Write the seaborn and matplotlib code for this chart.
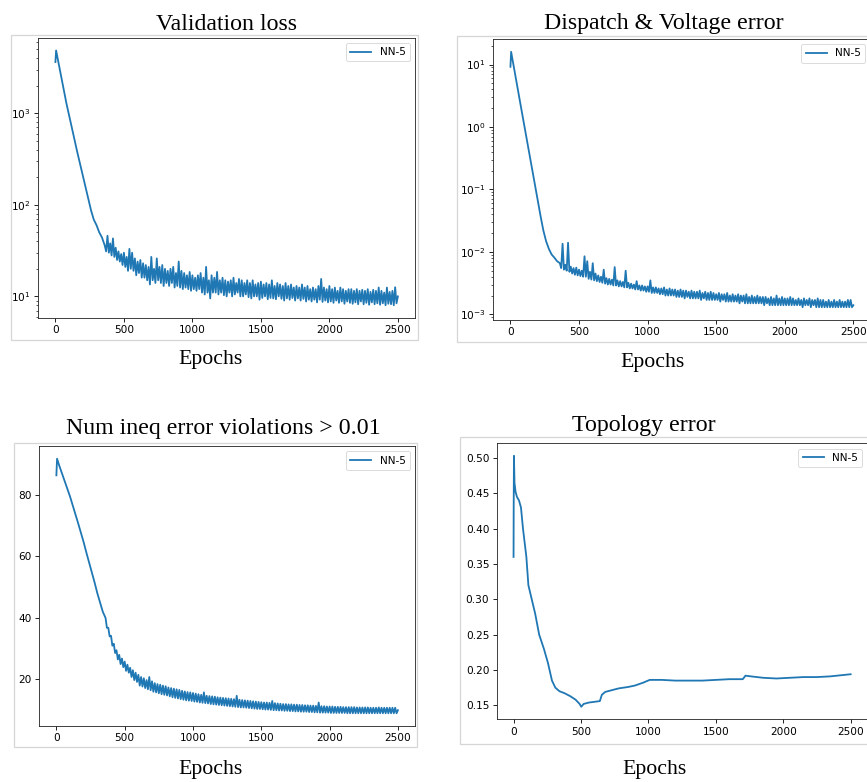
import matplotlib
matplotlib.use("Agg")
import matplotlib.pyplot as plt
import seaborn as sns
import pandas as pd
from matplotlib.patches import Rectangle

# ---------------- data ----------------
head_epochs = [0, 5, 20, 40, 60, 80, 100, 120, 140, 160, 180, 200, 220, 240,
               260, 280, 300, 320, 340]
tail_epochs = list(range(360, 2501, 10))
epochs = head_epochs + tail_epochs

loss_head = [3630, 4860, 3720, 2610, 1830, 1290, 946, 695, 510, 374, 279, 208,
             155, 115, 87, 69, 60, 50, 44]
loss_tail = [
    36, 31, 46, 30, 38, 28, 43, 27, 34, 25, 31, 24, 29, 22, 30, 21, 27, 19, 33, 20,
    30, 19, 26, 17, 24, 18, 25, 16, 23, 16, 22, 15, 21, 13.5, 27, 15, 20, 14, 26, 15,
    21, 14, 22, 13, 20, 14, 19, 13, 20, 14, 21, 12.5, 18, 13, 24, 12.5, 19, 12, 18, 12.5,
    17, 12, 18.5, 11.5, 17, 12, 16, 11.5, 17, 12, 18, 11, 16, 10.5, 21, 11, 15, 9.5, 17, 11,
    16, 11, 18.5, 10.5, 15, 11, 16, 10.3, 15, 10, 14.5, 11, 15, 10, 16, 10.5, 14, 11, 15.5, 10,
    15, 10, 14, 10.5, 15, 9.8, 14, 9.5, 15, 10, 13.5, 10, 14, 9.2, 14.5, 9.6, 13.5, 10, 14, 9.3,
    13.5, 9.6, 15, 9.5, 13, 9.3, 14, 10, 13.5, 9.4, 13, 9, 14, 9.5, 13, 9.2, 13.5, 9.6, 12.5, 9,
    13, 9.5, 12.5, 9, 13.5, 9.4, 12.5, 8.8, 13, 9.2, 12, 8.8, 12.5, 9.2, 12, 8.6, 13, 9.2, 15.5, 8.7,
    12.5, 9, 12, 8.6, 13, 8.8, 12, 8.5, 12.5, 9, 11.5, 8.5, 12.5, 8.8, 12, 8.3, 11.5, 8.8, 12, 8.5,
    12, 8.3, 11.5, 8.6, 12, 8.2, 11.5, 8.8, 11.8, 8.2, 11.5, 8.5, 12, 8.1, 11.2, 8.6, 11.8, 8.2, 11.5, 8.4,
    12.5, 8.1, 11.5, 8.4, 11, 8.0, 12.5, 8.3, 11.2, 8.2, 11.5, 8.0, 12.6, 8.4, 10]
val_loss = loss_head + loss_tail

disp_head = [9.2, 16, 10.4, 5.9, 3.34, 1.90, 1.08, 0.61, 0.347, 0.196, 0.112,
             0.063, 0.037, 0.022, 0.0148, 0.0112, 0.0091, 0.0081, 0.0071]
disp_tail = [
    0.0066, 0.0055, 0.0135, 0.0052, 0.0062, 0.0050, 0.0140, 0.0048, 0.0058, 0.0045,
    0.0055, 0.0043, 0.0056, 0.0042, 0.0052, 0.0041, 0.0050, 0.0040, 0.0085, 0.0040,
    0.0071, 0.0037, 0.0048, 0.0036, 0.0066, 0.0035, 0.0045, 0.0034, 0.0042, 0.0033,
    0.0040, 0.0032, 0.0052, 0.0031, 0.0038, 0.0030, 0.0037, 0.0030, 0.0036, 0.0029,
    0.0057, 0.0029, 0.0035, 0.0028, 0.0034, 0.0028, 0.0033, 0.0027, 0.0050, 0.0027,
    0.0032, 0.0026, 0.0031, 0.0026, 0.0030, 0.0025, 0.0034, 0.0025, 0.0029, 0.0024,
    0.0029, 0.0024, 0.0028, 0.0023, 0.0028, 0.0023, 0.0035, 0.0022, 0.0027, 0.0022,
    0.0027, 0.0022, 0.0026, 0.0021, 0.0026, 0.0021, 0.0027, 0.0020, 0.0025, 0.0020,
    0.0026, 0.0020, 0.0025, 0.0020, 0.0025, 0.0019, 0.0024, 0.0019, 0.0025, 0.0019,
    0.0024, 0.0018, 0.0024, 0.0019, 0.0023, 0.0018, 0.0024, 0.0018, 0.0023, 0.0018,
    0.0023, 0.0018, 0.0024, 0.0017, 0.0022, 0.0018, 0.0023, 0.0017, 0.0022, 0.0017,
    0.0023, 0.0017, 0.0022, 0.0017, 0.0021, 0.0017, 0.0022, 0.0016, 0.0021, 0.0017,
    0.0021, 0.0016, 0.0022, 0.0016, 0.0020, 0.0016, 0.0021, 0.0016, 0.0020, 0.0016,
    0.0021, 0.0015, 0.0020, 0.0016, 0.0020, 0.0015, 0.0021, 0.0015, 0.0019, 0.0015,
    0.0020, 0.0015, 0.0019, 0.0015, 0.0020, 0.0015, 0.0019, 0.0015, 0.0019, 0.0014,
    0.0019, 0.0015, 0.0018, 0.0014, 0.0019, 0.0014, 0.0018, 0.0014, 0.0020, 0.0014,
    0.0018, 0.0014, 0.0019, 0.0014, 0.0018, 0.0014, 0.0018, 0.0014, 0.0019, 0.0014,
    0.0018, 0.0014, 0.0017, 0.0014, 0.0018, 0.0014, 0.0017, 0.0013, 0.0018, 0.0014,
    0.0017, 0.0014, 0.0018, 0.0013, 0.0017, 0.0014, 0.0017, 0.0013, 0.0018, 0.0013,
    0.0017, 0.0013, 0.0017, 0.0013, 0.0016, 0.0013, 0.0017, 0.0013, 0.0016, 0.0013,
    0.0017, 0.0013, 0.0016, 0.0013, 0.0017, 0.0013, 0.0016, 0.0013, 0.0016, 0.0013,
    0.0017, 0.0013, 0.0017, 0.0013, 0.0014]
dispatch_err = disp_head + disp_tail

ineq_head = [86.4, 91.8, 89.7, 87.2, 84.6, 82.0, 79.5, 76.6, 73.7, 70.7, 67.6,
             64.6, 61.2, 58.0, 54.8, 51.5, 48.0, 45.0, 42.0]
ineq_tail = [
    40.0, 36.8, 36.8, 34.0, 34.2, 31.0, 31.6, 28.6, 29.5, 26.5, 28.0, 25.0, 26.8, 24.0, 25.8, 22.8, 24.8, 22.2, 23.8, 20.8,
    23.0, 19.8, 22.2, 19.2, 21.5, 18.0, 20.8, 17.7, 20.4, 17.2, 19.8, 16.8, 20.8, 16.5, 19.4, 16.0, 18.8, 15.8, 18.5, 15.5,
    18.3, 15.2, 18.0, 15.0, 17.8, 14.8, 17.4, 14.5, 17.2, 14.2, 17.0, 14.0, 16.8, 13.8, 16.6, 13.6, 16.3, 13.4, 16.1, 13.2,
    15.9, 13.1, 15.8, 13.0, 15.6, 12.8, 15.4, 12.7, 15.2, 12.5, 15.0, 12.4, 15.8, 12.3, 14.7, 12.2, 14.6, 12.0, 14.5, 11.9,
    14.4, 11.8, 14.2, 11.7, 14.1, 11.6, 14.0, 11.5, 13.9, 11.4, 13.8, 11.3, 13.7, 11.2, 13.6, 11.1, 14.7, 11.0, 13.4, 10.9,
    13.3, 10.9, 13.2, 10.8, 13.1, 10.7, 13.0, 10.6, 12.9, 10.5, 12.8, 10.4, 12.7, 10.4, 12.6, 10.3, 12.5, 10.2, 12.5, 10.2,
    12.4, 10.1, 13.0, 10.0, 12.3, 10.0, 12.2, 9.9, 12.1, 9.9, 12.0, 9.8, 12.0, 9.8, 11.9, 9.7, 11.9, 9.7, 11.8, 9.6,
    11.8, 9.6, 11.7, 9.5, 11.7, 9.5, 11.6, 9.5, 11.6, 9.4, 11.5, 9.4, 11.5, 9.3, 11.4, 9.3, 12.5, 9.2, 11.3, 9.2,
    11.3, 9.2, 11.2, 9.2, 11.2, 9.1, 11.2, 9.1, 11.1, 9.1, 11.1, 9.1, 11.1, 9.1, 11.0, 9.1, 11.0, 9.0, 11.0, 9.0,
    11.0, 9.0, 11.0, 9.0, 10.9, 9.0, 10.9, 9.0, 10.9, 9.0, 10.9, 9.0, 10.9, 9.0, 10.8, 9.0, 10.8, 9.0, 10.8, 9.0,
    10.9, 9.0, 10.8, 9.0, 10.8, 9.0, 10.8, 9.0, 10.8, 9.0, 10.8, 9.0, 10.8, 9.0, 10.0]
ineq_viol = ineq_head + ineq_tail

topo_epochs = [0, 1, 3, 7, 15, 25, 40, 55, 70, 95,
               110, 135, 160, 190, 225, 255, 285, 310, 340, 380,
               420, 460, 490, 502, 520, 560, 600, 640, 655, 680,
               720, 780, 850, 900, 960, 1010, 1100, 1200, 1300, 1400,
               1500, 1600, 1700, 1720, 1760, 1850, 1950, 2050, 2150, 2250,
               2350, 2450, 2500]
topo_err = [0.360, 0.430, 0.503, 0.465, 0.452, 0.445, 0.440, 0.430, 0.400, 0.360,
            0.320, 0.300, 0.280, 0.250, 0.230, 0.210, 0.185, 0.175, 0.170, 0.167,
            0.163, 0.158, 0.152, 0.148, 0.152, 0.154, 0.155, 0.156, 0.165, 0.169,
            0.171, 0.174, 0.176, 0.178, 0.182, 0.186, 0.186, 0.185, 0.185, 0.185,
            0.186, 0.187, 0.187, 0.192, 0.191, 0.189, 0.188, 0.189, 0.190, 0.190,
            0.191, 0.193, 0.194]

titles = ["Validation loss", "Dispatch & Voltage error",
          "Num ineq error violations > 0.01", "Topology error"]
xlabel = "Epochs"
series_label = "NN-5"
xticks = [0, 500, 1000, 1500, 2000, 2500]

# ---------------- layout ----------------
W, H = 867, 782
S = 0.76  # scale of the pasted screenshots
plt.rcParams.update({
    "font.family": ["DejaVu Sans"],
    "font.size": 10 * S,
    "axes.linewidth": 0.8 * S,
    "xtick.major.size": 3.5 * S, "ytick.major.size": 3.5 * S,
    "xtick.minor.size": 2.0 * S, "ytick.minor.size": 2.0 * S,
    "xtick.major.width": 0.8 * S, "ytick.major.width": 0.8 * S,
    "xtick.minor.width": 0.6 * S, "ytick.minor.width": 0.6 * S,
    "xtick.major.pad": 3.5 * S, "ytick.major.pad": 3.5 * S,
    "legend.fontsize": 10 * S,
    "patch.linewidth": 1.0 * S,
})

fig = plt.figure(figsize=(W / 100, H / 100), dpi=100)


def fig_rect(l, t, r, b):
    return [l / W, 1 - b / H, (r - l) / W, (b - t) / H]


frames = [(10.7, 35, 418, 340), (457.3, 36, 880, 341.7),
          (14.3, 442.7, 417.3, 747.3), (460, 437.3, 880, 744)]
for (l, t, r, b) in frames:
    fig.add_artist(Rectangle((l / W, 1 - b / H), (r - l) / W, (b - t) / H,
                             transform=fig.transFigure, fill=False,
                             ec="#d6d6d6", lw=0.9, zorder=0))

axes_px = [(38.3, 37.7, 415, 318), (493.3, 39, 870.5, 320),
           (39.3, 446, 415, 726), (496.7, 443.3, 867.5, 719.3)]
title_pos = [(226.3, 30), (664.2, 29.3), (223.3, 434), (644.2, 430.7)]
epoch_pos = [(210.7, 364), (652.2, 366.7), (210.7, 774), (654.3, 774)]

series = [(epochs, val_loss, True), (epochs, dispatch_err, True),
          (epochs, ineq_viol, False), (topo_epochs, topo_err, False)]

for i, ((xs, ys, logy), box) in enumerate(zip(series, axes_px)):
    ax = fig.add_axes(fig_rect(*box))
    df = pd.DataFrame({"epoch": xs, "value": ys})
    sns.lineplot(data=df, x="epoch", y="value", ax=ax, color="#1f77b4",
                 linewidth=1.3, label=series_label)
    if logy:
        ax.set_yscale("log")
    ax.set_xticks(xticks)
    ax.set_xlabel("")
    ax.set_ylabel("")
    leg = ax.legend(loc="upper right")
    leg.get_frame().set_linewidth(0.8 * S)
    for sp in ax.spines.values():
        sp.set_color("#222222")

    tx, ty = title_pos[i]
    fig.text(tx / W, 1 - ty / H, titles[i], ha="center", va="baseline",
             fontsize=17.2, family="Liberation Serif")
    ex, ey = epoch_pos[i]
    fig.text(ex / W, 1 - ey / H, xlabel, ha="center", va="baseline",
             fontsize=15.7, family="Liberation Serif")

fig.savefig("out.png", dpi=100)
